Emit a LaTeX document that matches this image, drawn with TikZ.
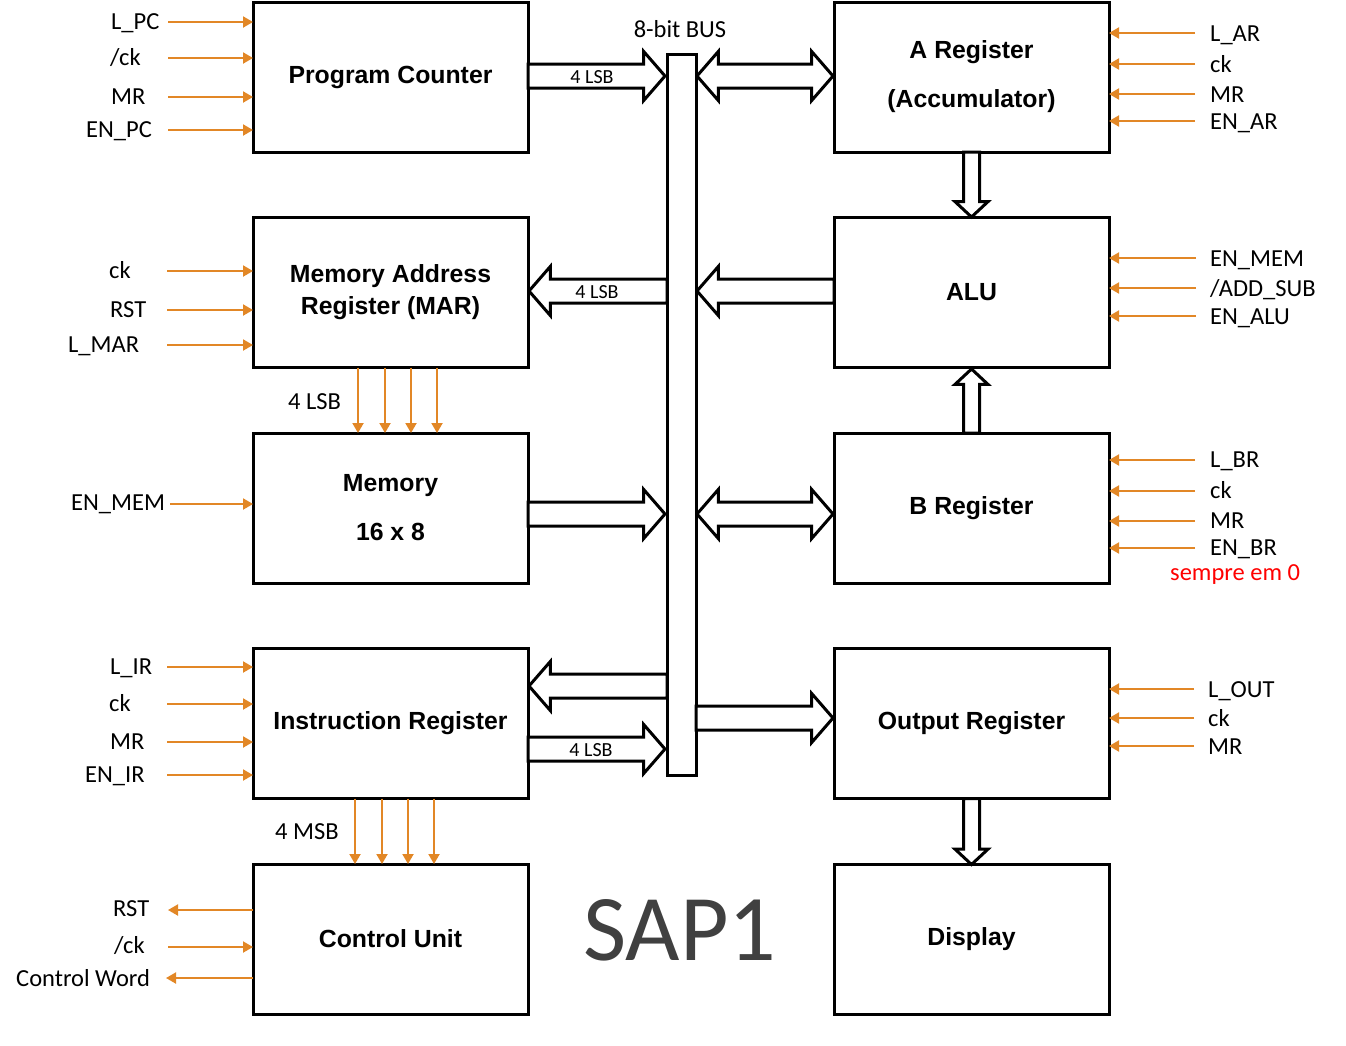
\documentclass[tikz,border=0pt]{standalone}
\usepackage{fontspec}
\setmainfont{Carlito}
\newfontfamily\boxfont{Liberation Sans}
\usetikzlibrary{arrows.meta,positioning,shapes.arrows}
\definecolor{sigorange}{RGB}{226,135,38}
\definecolor{sapgray}{RGB}{64,64,64}

\begin{document}
\begin{tikzpicture}[
  x=1pt, y=-1pt,
  block/.style={
    draw,
    line width=3pt,
    minimum width=275pt,
    minimum height=150pt,
    inner sep=0pt,
    outer sep=0pt,
    align=center,
    font=\boxfont\bfseries\fontsize{24.8}{49}\selectfont
  },
  sig/.style={
    sigorange,
    line width=2pt,
    -{Triangle[length=10pt,width=11pt]}
  },
  siglabel/.style={
    anchor=mid west,
    inner sep=0pt,
    font=\fontsize{24.5}{29}\selectfont
  },
  fatarrow/.style={
    single arrow,
    draw,
    fill=white,
    line width=3pt,
    inner xsep=0pt,
    inner ysep=10.5pt,
    outer sep=0pt,
    minimum width=46pt,
    minimum height=137pt,
    single arrow head extend=12.5pt,
    single arrow tip angle=98,
    anchor=tail
  },
  fatboth/.style={
    double arrow,
    draw,
    fill=white,
    line width=3pt,
    inner xsep=0pt,
    inner ysep=10.5pt,
    outer sep=0pt,
    minimum width=46pt,
    minimum height=136pt,
    double arrow head extend=12.5pt,
    double arrow tip angle=98
  },
  fatdown/.style={
    fatarrow,
    inner sep=6.5pt,
    minimum width=30pt,
    single arrow head extend=8.5pt,
    single arrow tip angle=94
  },
  buslsb/.style={
    inner sep=0pt,
    font=\fontsize{20}{20}\selectfont
  },
]
\useasboundingbox (0,0) rectangle (1346,1045);

% left column
\node[block] (pc) at (390.5,77) {Program Counter};
\node[block, below=65.5pt of pc, font=\boxfont\bfseries\fontsize{24.8}{32}\selectfont] (mar) {Memory Address\\Register (MAR)};
\node[block, below=65.5pt of mar] (mem) {Memory\\16 x 8};
\node[block, below=65.5pt of mem] (ir) {Instruction Register};
\node[block, below=65.5pt of ir] (cu) {Control Unit};

% right column
\node[block, right=306pt of pc] (areg) {A Register\\(Accumulator)};
\node[block, below=65.5pt of areg] (alu) {ALU};
\node[block, below=65.5pt of alu] (breg) {B Register};
\node[block, below=65.5pt of breg] (out) {Output Register};
\node[block, below=65.5pt of out] (disp) {Display};

% bus
\node[draw, line width=3pt, minimum width=29pt, minimum height=721pt, inner sep=0pt, outer sep=0pt] (bus) at (681.5,414.5) {};
\node[font=\fontsize{24.5}{29}\selectfont] (buslabel) at (680,29) {8-bit BUS};

% block arrows to and from the bus
\node[fatarrow] (pcout) at (pc.east |- 0,76) {};
\node[fatboth] (abus) at (765,76) {};
\node[fatarrow, shape border rotate=180, minimum height=138pt] (marin) at (bus.west |- 0,291) {};
\node[fatarrow, shape border rotate=180] (aluout) at (alu.west |- 0,291) {};
\node[fatarrow] (memout) at (mem.east |- 0,514) {};
\node[fatboth] (bbus) at (765,514) {};
\node[fatarrow, shape border rotate=180, minimum height=138pt] (irin) at (bus.west |- 0,686) {};
\node[fatarrow] (irout) at (ir.east |- 0,749) {};
\node[fatarrow] (outin) at (bus.east |- 0,718) {};
\node[fatdown, shape border rotate=270, minimum height=65pt] (atoalu) at (areg.south) {};
\node[fatdown, shape border rotate=90, minimum height=64pt] (btoalu) at (breg.north) {};
\node[fatdown, shape border rotate=270, minimum height=66pt] (todisp) at (out.south) {};
\node[buslsb] (pclsb) at (592,77) {4 LSB};
\node[buslsb] (marlsb) at (597,292) {4 LSB};
\node[buslsb] (irlsb) at (591,750) {4 LSB};

% control inputs, left side
\foreach \name/\lx/\y [count=\i] in {L\_PC/111/22, {/ck}/110/58, MR/111/97, EN\_PC/86/130} {
  \node[siglabel] (pcs\i) at (\lx,\y+5) {\name};
  \draw[sig] (168,\y) -- (pc.west |- 0,\y);
}
\foreach \name/\lx/\y [count=\i] in {ck/109/271, RST/110/310, L\_MAR/68/345} {
  \node[siglabel] (mars\i) at (\lx,\y+5) {\name};
  \draw[sig] (167,\y) -- (mar.west |- 0,\y);
}
\node[siglabel] (mems) at (71,508) {EN\_MEM};
\draw[sig] (170,504) -- (mem.west |- 0,504);
\foreach \name/\lx/\y [count=\i] in {L\_IR/110/667, ck/109/704, MR/110/742, EN\_IR/85/775} {
  \node[siglabel] (irs\i) at (\lx,\y+5) {\name};
  \draw[sig] (167,\y) -- (ir.west |- 0,\y);
}
\node[siglabel] (cus1) at (113,914) {RST};
\node[siglabel] (cus2) at (114,951) {/ck};
\node[siglabel] (cus3) at (16,984) {Control Word};
\draw[sig] (cu.west |- 0,910) -- (168,910);
\draw[sig] (168,947) -- (cu.west |- 0,947);
\draw[sig] (cu.west |- 0,978) -- (166,978);

% control inputs, right side
\foreach \name/\y [count=\i] in {L\_AR/33, ck/64, MR/94, EN\_AR/121} {
  \node[siglabel] (as\i) at (1210,\y+6) {\name};
  \draw[sig] (1195,\y) -- (areg.east |- 0,\y);
}
\foreach \name/\y [count=\i] in {EN\_MEM/258, {/ADD\_SUB}/288, EN\_ALU/316} {
  \node[siglabel] (alus\i) at (1210,\y+6) {\name};
  \draw[sig] (1196,\y) -- (alu.east |- 0,\y);
}
\foreach \name/\y [count=\i] in {L\_BR/460, ck/491, MR/521, EN\_BR/548} {
  \node[siglabel] (bs\i) at (1210,\y+5) {\name};
  \draw[sig] (1195,\y) -- (breg.east |- 0,\y);
}
\node[siglabel, text=red] (note) at (1170,578) {sempre em 0};
\foreach \name/\y [count=\i] in {L\_OUT/689, ck/718, MR/746} {
  \node[siglabel] (outs\i) at (1208,\y+6) {\name};
  \draw[sig] (1194,\y) -- (out.east |- 0,\y);
}

% address and opcode lines
\node[siglabel] (lsb) at (288,407) {4 LSB};
\foreach \x in {358,385,411,437}
  \draw[sig] (mar.south -| \x,0) -- (mem.north -| \x,0);
\node[siglabel] (msb) at (275,837) {4 MSB};
\foreach \x in {355,382,408,434}
  \draw[sig] (ir.south -| \x,0) -- (cu.north -| \x,0);

\node[font=\fontsize{94}{94}\selectfont, text=sapgray] (title) at (680,930) {SAP1};
\end{tikzpicture}
\end{document}
